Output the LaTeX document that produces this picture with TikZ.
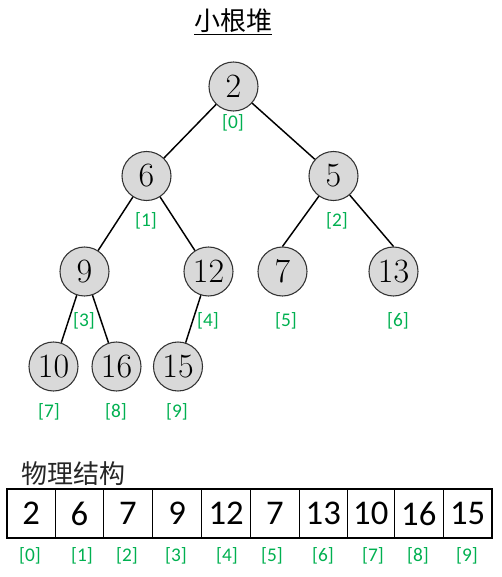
\documentclass[tikz,border=0pt]{standalone}
\usepackage{fontspec}
\newfontfamily\cjk{Noto Sans CJK SC}
\newfontfamily\carl{Carlito}
\definecolor{idxgreen}{RGB}{0,176,80}
\definecolor{nodefill}{RGB}{217,217,217}
\definecolor{nodedraw}{RGB}{50,50,50}
\begin{document}
\begin{tikzpicture}[x=0.75pt,y=-0.75pt,
  heapnode/.style={circle,draw=nodedraw,line width=0.8pt,fill=nodefill,minimum size=36.75pt,inner sep=0pt,font=\fontsize{25.5}{30}\selectfont},
  idx/.style={text=idxgreen,font=\carl\fontsize{14.5}{17}\selectfont,inner sep=0pt},
  edge/.style={draw=black,line width=1.1pt},
  cell/.style={draw=black,line width=0.9pt,minimum height=36.75pt,inner sep=0pt,font=\carl\fontsize{26}{30}\selectfont}]
\useasboundingbox (0,0) rectangle (502,577);
% title
\node[font=\cjk\fontsize{19.5}{22}\selectfont,inner sep=0pt] (title) at (233,22) {\underline{小根堆}};
% tree nodes
\node[heapnode] (n0) at (233.5,86.5) {2};
\node[heapnode] (n1) at (146.5,176) {6};
\node[heapnode] (n2) at (333.5,176) {5};
\node[heapnode] (n3) at (84.5,271.5) {9};
\node[heapnode] (n4) at (208.5,271.5) {12};
\node[heapnode] (n5) at (282.5,271.5) {7};
\node[heapnode] (n6) at (393.5,271.5) {13};
\node[heapnode] (n7) at (53.5,366.5) {10};
\node[heapnode] (n8) at (116.5,366.5) {16};
\node[heapnode] (n9) at (178,366.5) {15};
% edges
\draw[edge] (n0) -- (n1);
\draw[edge] (n0) -- (n2);
\draw[edge] (n1) -- (n3);
\draw[edge] (n1) -- (n4);
\draw[edge] (n2) -- (n5.north);
\draw[edge] (n2) -- (n6.north);
\draw[edge] (n3) -- (n7);
\draw[edge] (n3) -- (n8);
\draw[edge] (n4) -- (n9);
% tree index labels
\node[idx] (l0) at (233,123) {[0]};
\node[idx] (l1) at (146,221) {[1]};
\node[idx] (l2) at (337,221) {[2]};
\node[idx] (l3) at (84,321) {[3]};
\node[idx] (l4) at (208,321) {[4]};
\node[idx] (l5) at (286,321) {[5]};
\node[idx] (l6) at (398,321) {[6]};
\node[idx] (l7) at (49,412) {[7]};
\node[idx] (l8) at (116,412) {[8]};
\node[idx] (l9) at (177,412) {[9]};
% physical structure
\node[font=\cjk\fontsize{19.5}{22}\selectfont,text=black!85,anchor=west,inner sep=0pt] (phys) at (21,474) {物理结构};
\node[cell,minimum width=36.2pt] (c0) at (31.15,513.5) {2};
\node[cell,minimum width=36pt] (c1) at (79.3,513.5) {6};
\node[cell,minimum width=37.05pt] (c2) at (128,513.5) {7};
\node[cell,minimum width=36.75pt] (c3) at (177.2,513.5) {9};
\node[cell,minimum width=36.75pt] (c4) at (226.2,513.5) {12};
\node[cell,minimum width=36.45pt] (c5) at (275,513.5) {7};
\node[cell,minimum width=36pt] (c6) at (323.3,513.5) {13};
\node[cell,minimum width=35.25pt] (c7) at (370.8,513.5) {10};
\node[cell,minimum width=36.75pt] (c8) at (418.8,513.5) {16};
\node[cell,minimum width=36.5pt] (c9) at (467.65,513.5) {15};
% array index labels
\node[idx] (a0) at (30,556) {[0]};
\node[idx] (a1) at (82,556) {[1]};
\node[idx] (a2) at (127,556) {[2]};
\node[idx] (a3) at (176,556) {[3]};
\node[idx] (a4) at (227,556) {[4]};
\node[idx] (a5) at (272,556) {[5]};
\node[idx] (a6) at (323,556) {[6]};
\node[idx] (a7) at (373,556) {[7]};
\node[idx] (a8) at (418,556) {[8]};
\node[idx] (a9) at (467,556) {[9]};
\end{tikzpicture}
\end{document}
